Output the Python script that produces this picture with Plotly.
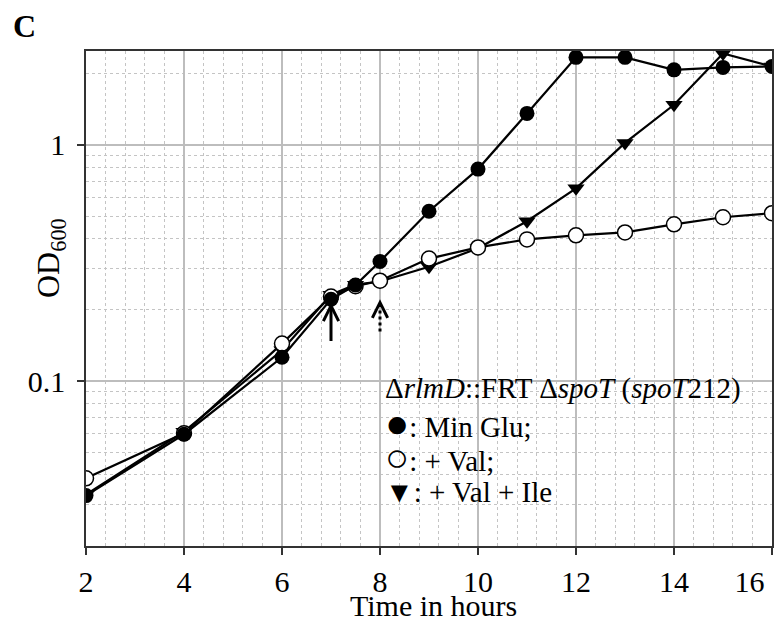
import math
import plotly.graph_objects as go

# ---- data ----
hours = [2, 4, 6, 7, 7.5, 8, 9, 10, 11, 12, 13, 14, 15, 16]
od_min_glu = [0.0327, 0.0595, 0.126, 0.222, 0.255, 0.321, 0.524, 0.79, 1.36, 2.35, 2.35, 2.08, 2.13, 2.15]
od_val = [0.0387, 0.0600, 0.144, 0.228, 0.252, 0.266, 0.330, 0.368, 0.398, 0.414, 0.426, 0.461, 0.494, 0.514]
od_val_ile = [0.0330, 0.0610, 0.135, 0.232, 0.256, 0.264, 0.305, 0.365, 0.475, 0.655, 1.02, 1.48, 2.44, 2.15]

x_ticks = [2, 4, 6, 8, 10, 12, 14, 16]
x_ticktext = ["2", "4", "6", "8", "10", "12", "14", "16" + "\u00a0" * 6]
y_ticks = [0.1, 1]
y_ticktext = ["0.1", "1"]

SYM = '<span style="font-size:40px">{}</span>'
legend_title = "Δ<i>rlmD</i>::FRT Δ<i>spoT</i> (<i>spoT</i>212)"
legend_lines = [SYM.format("●") + ": Min Glu;", SYM.format("○") + ": + Val;", "▼: + Val + Ile"]

# arrow marks (time of addition)
arrow_solid = (7, 0.215)
arrow_dotted = (8, 0.222)
dotted_stem = (0.162, 0.205)

FONT = "Liberation Serif, Times New Roman, serif"

fig = go.Figure()
fig.add_trace(go.Scatter(
    x=hours, y=od_val_ile, mode="lines+markers",
    line=dict(color="black", width=2.2),
    marker=dict(symbol="triangle-down", size=15, color="black"),
    showlegend=False))
fig.add_trace(go.Scatter(
    x=hours, y=od_val, mode="lines+markers",
    line=dict(color="black", width=2.2),
    marker=dict(symbol="circle", size=15, color="white", line=dict(color="black", width=1.5)),
    showlegend=False))
fig.add_trace(go.Scatter(
    x=hours, y=od_min_glu, mode="lines+markers",
    line=dict(color="black", width=2.2),
    marker=dict(symbol="circle", size=15, color="black"),
    showlegend=False))

fig.update_xaxes(
    range=[2, 16], tickvals=x_ticks, ticktext=x_ticktext, automargin=False,
    showgrid=True, gridcolor="#bdbdbd", gridwidth=2,
    minor=dict(dtick=0.4, showgrid=True, gridcolor="#c4c4c4", griddash="dot", gridwidth=1),
    showline=True, linecolor="#333333", linewidth=1.5, mirror=True,
    ticks="outside", ticklen=7, tickcolor="#333333", tickwidth=1.5,
    tickfont=dict(family=FONT, size=30, color="black"),
    ticklabelstandoff=1, ticklabeloverflow="allow",
    zeroline=False)
fig.update_yaxes(
    type="log", range=[math.log10(0.02), math.log10(2.5)], automargin=False,
    tickvals=y_ticks, ticktext=y_ticktext,
    showgrid=True, gridcolor="#bdbdbd", gridwidth=2,
    minor=dict(dtick="D1", showgrid=True, gridcolor="#c4c4c4", griddash="dot", gridwidth=1),
    showline=True, linecolor="#333333", linewidth=1.5, mirror=True,
    ticks="outside", ticklen=7, tickcolor="#333333", tickwidth=1.5,
    tickfont=dict(family=FONT, size=30, color="black"),
    ticklabelstandoff=6,
    zeroline=False)

W, H = 781, 622
L, R, T, B = 86, 9, 51, 76
pw, ph = W - L - R, H - T - B

def px2paper_x(px):
    return (px - L) / pw

def px2paper_y(py):
    return (H - B - py) / ph

# white legend box
fig.add_shape(type="rect", xref="paper", yref="paper",
              x0=px2paper_x(362), x1=1, y0=px2paper_y(522), y1=px2paper_y(362),
              fillcolor="white", line=dict(width=0), layer="between")

annotations = []
ys = [388, 423, 457, 492]
for txt, yy in zip([legend_title] + legend_lines, ys):
    annotations.append(dict(text=txt, xref="paper", yref="paper",
                            x=px2paper_x(383), y=px2paper_y(yy), xanchor="left", yanchor="middle",
                            showarrow=False, font=dict(family=FONT, size=29, color="black")))

# panel label
annotations.append(dict(text="<b>C</b>", xref="paper", yref="paper",
                        x=px2paper_x(11), y=px2paper_y(26), xanchor="left", yanchor="middle",
                        showarrow=False, font=dict(family=FONT, size=32, color="black")))
# axis titles
annotations.append(dict(text="Time in hours", xref="paper", yref="paper",
                        x=px2paper_x(433), y=px2paper_y(605), xanchor="center", yanchor="middle",
                        showarrow=False, font=dict(family=FONT, size=30, color="black")))
annotations.append(dict(text="OD<sub>600</sub>", xref="paper", yref="paper",
                        x=px2paper_x(50), y=px2paper_y(258), xanchor="center", yanchor="middle",
                        textangle=-90, showarrow=False, font=dict(family=FONT, size=32, color="black")))

# solid arrow
annotations.append(dict(x=arrow_solid[0], y=math.log10(arrow_solid[1]), xref="x", yref="y",
                        ax=0, ay=40, text="", showarrow=True, arrowhead=5, arrowsize=1,
                        arrowwidth=3, arrowcolor="black"))
# dotted arrow: head + dotted stem
annotations.append(dict(x=arrow_dotted[0], y=math.log10(arrow_dotted[1]), xref="x", yref="y",
                        ax=0, ay=9, text="", showarrow=True, arrowhead=5, arrowsize=1,
                        arrowwidth=3, arrowcolor="black"))
fig.add_shape(type="line", xref="x", yref="y",
              x0=arrow_dotted[0], x1=arrow_dotted[0],
              y0=dotted_stem[0], y1=dotted_stem[1],
              line=dict(color="black", width=3, dash="dot"))

fig.update_layout(
    width=W, height=H,
    margin=dict(l=L, r=R, t=T, b=B, autoexpand=False),
    plot_bgcolor="white", paper_bgcolor="white",
    annotations=annotations,
    showlegend=False)

fig.write_html("out.html", config={"displayModeBar": False},
               post_script="document.body.style.margin='0px';")
